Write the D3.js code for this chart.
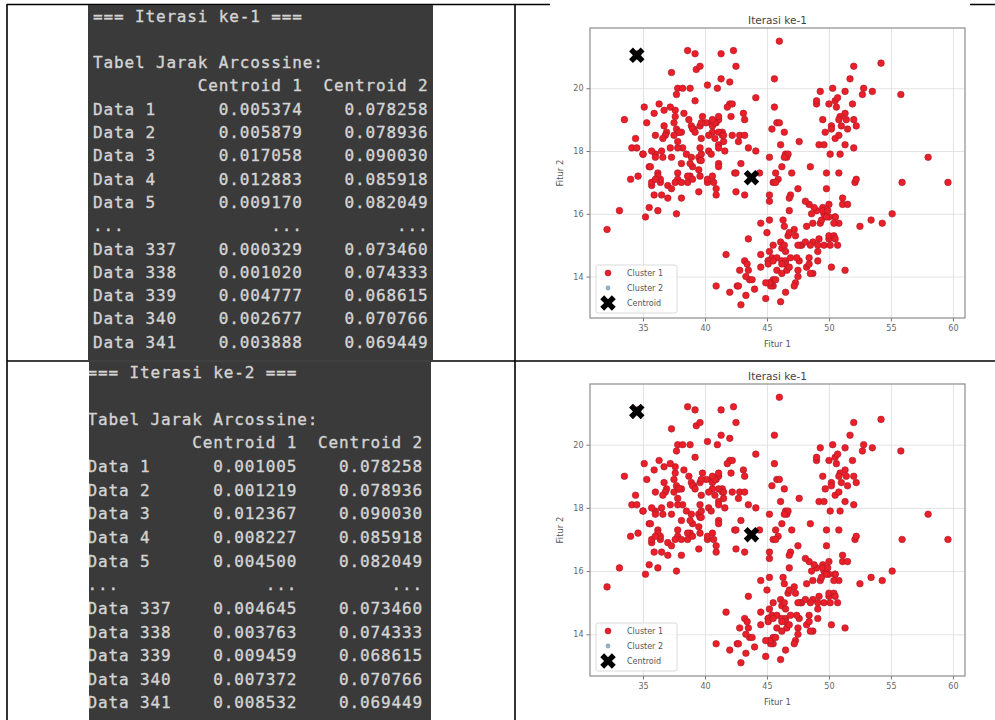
<!DOCTYPE html>
<html>
<head>
<meta charset="utf-8">
<script src="https://cdn.jsdelivr.net/npm/d3@7"></script>
<style>
  body { margin: 0; background: #fff; }
  svg { display: block; }
  .mono { font-family: "DejaVu Sans Mono", "Liberation Mono", monospace; white-space: pre; }
  .plot text { font-family: "DejaVu Sans", sans-serif; }
</style>
</head>
<body>
<svg id="chart" width="995" height="720"></svg>
<script>
// table text (terminal output)
var rowLabels = ["Data 1", "Data 2", "Data 3", "Data 4", "Data 5", "...", "Data 337", "Data 338", "Data 339", "Data 340", "Data 341"];
var iter1Centroid1 = ["0.005374", "0.005879", "0.017058", "0.012883", "0.009170", "...", "0.000329", "0.001020", "0.004777", "0.002677", "0.003888"];
var iter1Centroid2 = ["0.078258", "0.078936", "0.090030", "0.085918", "0.082049", "...", "0.073460", "0.074333", "0.068615", "0.070766", "0.069449"];
var iter2Centroid1 = ["0.001005", "0.001219", "0.012367", "0.008227", "0.004500", "...", "0.004645", "0.003763", "0.009459", "0.007372", "0.008532"];
var iter2Centroid2 = ["0.078258", "0.078936", "0.090030", "0.085918", "0.082049", "...", "0.073460", "0.074333", "0.068615", "0.070766", "0.069449"];

// scatter data: [Fitur 1, Fitur 2]
var points = [
  [39.1,18.7],[39.5,17.4],[40.3,18.0],[36.7,19.3],[39.3,20.6],[38.9,17.8],[39.2,19.6],[34.1,18.1],[42.0,20.2],[37.8,17.1],
  [37.8,17.3],[41.1,17.6],[38.6,21.2],[34.6,21.1],[36.6,17.8],[38.7,19.0],[42.5,20.7],[34.4,18.4],[46.0,21.5],[37.8,18.3],
  [37.7,18.7],[35.9,19.2],[38.2,18.1],[38.8,17.2],[35.3,18.9],[40.6,18.6],[40.5,17.9],[37.9,18.6],[40.5,18.9],[39.5,16.7],
  [37.2,18.1],[39.5,17.8],[40.9,18.9],[36.4,17.0],[39.2,21.1],[38.8,20.0],[42.2,18.5],[37.6,19.3],[39.8,19.1],[36.5,18.0],
  [40.8,18.4],[36.0,18.5],[44.1,19.7],[37.0,16.9],[39.6,18.8],[41.1,19.0],[37.5,18.9],[36.0,17.9],[42.3,21.2],[39.6,17.7],
  [40.1,18.9],[35.0,17.9],[42.0,19.5],[34.5,18.1],[41.4,18.6],[39.0,17.5],[40.6,18.8],[36.5,16.6],[37.6,19.1],[35.7,16.9],
  [41.3,21.1],[37.6,17.0],[41.1,18.2],[36.4,17.1],[41.6,18.0],[35.5,16.2],[41.1,19.1],[35.9,16.6],[41.8,19.4],[33.5,19.0],
  [39.7,18.4],[39.6,17.2],[45.8,18.9],[35.5,17.5],[42.8,18.5],[40.9,16.8],[37.2,19.4],[36.2,16.1],[42.1,19.1],[34.6,17.2],
  [42.9,17.6],[36.7,18.8],[35.1,19.4],[37.3,17.8],[41.3,20.3],[36.3,19.5],[36.9,18.6],[38.3,19.2],[38.9,18.8],[35.7,18.0],
  [41.1,18.1],[34.0,17.1],[39.6,18.1],[36.2,17.3],[40.8,18.9],[38.1,18.6],[40.3,18.5],[33.1,16.1],[43.2,18.5],[35.0,17.9],
  [41.0,20.0],[37.7,16.0],[37.8,20.0],[37.9,18.6],[39.7,18.9],[38.6,17.2],[38.2,20.0],[38.1,17.0],[43.2,19.0],[38.1,16.5],
  [45.6,20.3],[39.7,17.7],[42.2,19.5],[39.6,20.7],[42.7,18.3],[38.6,17.0],[37.3,20.5],[35.7,17.0],[41.1,18.6],[36.2,17.2],
  [37.7,19.8],[40.2,17.0],[41.4,18.5],[35.2,15.9],[40.6,19.0],[38.8,17.6],[41.5,18.3],[39.0,17.1],[44.1,18.0],[38.5,17.9],
  [43.1,19.2],[36.8,18.5],[37.5,18.5],[38.1,17.6],[41.1,17.5],[35.6,17.5],[40.2,20.1],[37.0,16.5],[39.7,17.9],[40.2,17.1],
  [40.6,17.2],[32.1,15.5],[40.7,17.0],[37.3,16.8],[39.0,18.7],[39.2,18.6],[36.6,18.4],[36.0,17.8],[37.8,18.1],[36.0,17.1],
  [41.5,18.5],
  [46.1,13.2],[50.0,16.3],[48.7,14.1],[50.0,15.2],[47.6,14.5],[46.5,13.5],[45.4,14.6],[46.7,15.3],[43.3,13.4],[46.8,15.4],
  [40.9,13.7],[49.0,16.1],[45.5,13.7],[48.4,14.6],[45.8,14.6],[49.3,15.7],[42.0,13.5],[49.2,15.2],[46.2,14.5],[48.7,15.1],
  [50.2,14.3],[45.1,14.5],[46.5,14.5],[46.3,15.8],[42.9,13.1],[46.1,15.1],[44.5,14.3],[47.8,15.0],[48.2,14.3],[50.0,15.3],
  [47.3,15.3],[42.8,14.2],[45.1,14.5],[59.6,17.0],[49.1,14.8],[48.4,16.3],[42.6,13.7],[44.4,17.3],[44.0,13.6],[48.7,15.7],
  [42.7,13.7],[49.6,16.0],[45.3,13.7],[49.6,15.0],[50.5,15.9],[43.6,13.9],[45.5,13.9],[50.5,15.9],[44.9,13.3],[45.2,15.8],
  [46.6,14.2],[48.5,14.1],[45.1,14.4],[50.1,15.0],[46.5,14.4],[45.0,15.4],[43.8,13.9],[45.5,15.0],[43.2,14.5],[50.4,15.3],
  [45.3,13.8],[46.2,14.9],[45.7,13.9],[54.3,15.7],[45.8,14.2],[49.8,16.8],[46.2,14.4],[49.5,16.2],[43.5,14.2],[50.7,15.0],
  [47.7,15.0],[46.4,15.6],[48.2,15.6],[46.5,14.8],[46.4,15.0],[48.6,16.0],[47.5,14.2],[51.1,16.3],[45.2,13.8],[45.2,16.4],
  [49.1,14.5],[52.5,15.6],[47.4,14.6],[50.0,15.9],[44.9,13.8],[50.8,17.3],[43.4,14.4],[51.3,14.2],[47.5,14.0],[52.1,17.0],
  [47.5,15.0],[52.2,17.1],[45.5,14.5],[49.5,16.1],[44.5,14.7],[50.8,15.7],[49.4,15.8],[46.9,14.6],[48.4,14.4],[51.1,16.5],
  [48.5,15.0],[55.9,17.0],[47.2,15.5],[49.1,15.0],[47.3,13.8],[46.8,16.1],[41.7,14.7],[53.4,15.8],[43.3,14.0],[48.1,15.1],
  [50.5,15.2],[49.8,15.9],[43.5,15.2],[51.5,16.3],[46.2,14.1],[55.1,16.0],[44.5,15.7],[48.8,16.2],[47.2,13.7],[46.8,14.3],
  [50.4,15.7],[45.2,14.8],[49.9,16.1],
  [46.5,17.9],[50.0,19.5],[51.3,19.2],[45.4,18.7],[52.7,19.8],[45.2,17.8],[46.1,18.2],[51.3,18.2],[46.0,18.9],[51.3,19.9],
  [46.6,17.8],[51.7,20.3],[47.0,17.3],[52.0,18.1],[45.9,17.1],[50.5,19.6],[50.3,20.0],[58.0,17.8],[46.4,18.6],[49.2,18.2],
  [42.4,17.3],[48.5,17.5],[43.2,16.6],[50.6,19.4],[46.7,17.9],[52.0,19.0],[50.5,18.4],[49.5,19.0],[46.4,17.8],[52.8,20.0],
  [40.9,16.6],[54.2,20.8],[42.5,16.7],[51.0,18.8],[49.7,18.6],[47.5,16.8],[47.6,18.3],[52.0,20.7],[46.9,16.6],[53.5,19.9],
  [49.0,19.5],[46.2,17.5],[50.9,19.1],[45.5,17.0],[50.9,17.9],[50.8,18.5],[50.1,17.9],[49.0,19.6],[51.5,18.7],[49.8,17.3],
  [48.1,16.4],[51.4,19.0],[45.7,17.3],[50.7,19.7],[42.5,17.3],[52.2,18.8],[45.2,16.6],[49.3,19.9],[50.2,18.8],[45.6,19.4],
  [51.9,19.5],[46.8,16.5],[45.7,17.0],[55.8,19.8],[43.5,18.1],[49.6,18.2],[50.8,19.0],[50.2,18.7]
];
var centroids = [[34.5, 21.05], [43.75, 17.15]];
var xTicks = [35, 40, 45, 50, 55, 60];
var yTicks = [14, 16, 18, 20];
var legendLabels = ["Cluster 1", "Cluster 2", "Centroid"];

var svg = d3.select("#chart");

// ---- terminal panels ----
function buildLines(title, c1, c2) {
  var lines = [title, "", "Tabel Jarak Arcossine:",
    "".padEnd(8) + "  " + "Centroid 1" + "  " + "Centroid 2"];
  rowLabels.forEach(function (lab, i) {
    lines.push(lab.padEnd(8) + "  " + c1[i].padStart(10) + "  " + c2[i].padStart(10));
  });
  return lines;
}

function drawPanel(id, x0, y0, x1, y1, textX, baseY, step, lines) {
  svg.append("clipPath").attr("id", id)
    .append("rect").attr("x", x0).attr("y", y0).attr("width", x1 - x0).attr("height", y1 - y0);
  var g = svg.append("g").attr("clip-path", "url(#" + id + ")");
  g.append("rect").attr("x", x0).attr("y", y0).attr("width", x1 - x0).attr("height", y1 - y0)
    .attr("fill", "#3a3a3a");
  g.selectAll("text").data(lines).enter().append("text")
    .attr("class", "mono")
    .attr("x", textX)
    .attr("y", function (d, i) { return baseY + i * step; })
    .attr("font-size", "16px")
    .attr("letter-spacing", "0.85px")
    .attr("fill", "#d4d4d4")
    .attr("stroke", "#d4d4d4")
    .attr("stroke-width", 0.35)
    .text(function (d) { return d; });
}

// table borders
var border = svg.append("g").attr("stroke", "#000").attr("stroke-width", 1.6);
border.append("line").attr("x1", 7).attr("y1", 4.5).attr("x2", 995).attr("y2", 4.5);
border.append("line").attr("x1", 7).attr("y1", 4).attr("x2", 7).attr("y2", 720);
border.append("line").attr("x1", 515).attr("y1", 4).attr("x2", 515).attr("y2", 720);
border.append("line").attr("x1", 7).attr("y1", 361).attr("x2", 995).attr("y2", 361);

drawPanel("clipTop", 88, 5, 433, 360, 93, 21.5, 23.3,
  buildLines("=== Iterasi ke-1 ===", iter1Centroid1, iter1Centroid2));
drawPanel("clipBot", 89, 362, 431, 720, 87.5, 377.5, 23.64,
  buildLines("=== Iterasi ke-2 ===", iter2Centroid1, iter2Centroid2));

// ---- scatter plots ----
function drawPlot(top, h, whiteTop) {
  var left = 590, right = 965, bottom = top + h;
  var g = svg.append("g").attr("class", "plot");
  if (whiteTop) {
    g.append("rect").attr("x", 550).attr("y", 3).attr("width", 420).attr("height", 355).attr("fill", "#fff");
  }
  var x = d3.scaleLinear().domain([30.725, 60.975]).range([left, right]);
  var y = d3.scaleLinear().domain([12.68, 21.92]).range([bottom, top]);

  // grid
  g.append("g").attr("transform", "translate(0," + bottom + ")")
    .call(d3.axisBottom(x).tickValues(xTicks).tickSize(-h).tickFormat(""))
    .call(function (s) {
      s.select(".domain").remove();
      s.selectAll("line").attr("stroke", "#dcdcdc").attr("stroke-width", 0.8);
    });
  g.append("g").attr("transform", "translate(" + left + ",0)")
    .call(d3.axisLeft(y).tickValues(yTicks).tickSize(-(right - left)).tickFormat(""))
    .call(function (s) {
      s.select(".domain").remove();
      s.selectAll("line").attr("stroke", "#dcdcdc").attr("stroke-width", 0.8);
    });

  // axes ticks
  g.append("g").attr("transform", "translate(0," + bottom + ")")
    .call(d3.axisBottom(x).tickValues(xTicks).tickSize(3.5).tickPadding(3.5))
    .call(function (s) {
      s.select(".domain").remove();
      s.selectAll("line").attr("stroke", "#777");
      s.selectAll("text").attr("font-size", "8px").attr("fill", "#666")
        .attr("font-family", "DejaVu Sans, sans-serif");
    });
  g.append("g").attr("transform", "translate(" + left + ",0)")
    .call(d3.axisLeft(y).tickValues(yTicks).tickSize(3.5).tickPadding(3))
    .call(function (s) {
      s.select(".domain").remove();
      s.selectAll("line").attr("stroke", "#777");
      s.selectAll("text").attr("font-size", "8px").attr("fill", "#666")
        .attr("font-family", "DejaVu Sans, sans-serif");
    });

  // points
  g.append("g").selectAll("circle").data(points).enter().append("circle")
    .attr("cx", function (d) { return x(d[0]); })
    .attr("cy", function (d) { return y(d[1]); })
    .attr("r", 3.3)
    .attr("fill", "#ea1f27")
    .attr("stroke", "#a8182a")
    .attr("stroke-width", 0.6);

  // centroids
  var cross = d3.symbol().type(d3.symbolCross).size(150);
  g.append("g").selectAll("path").data(centroids).enter().append("path")
    .attr("d", cross)
    .attr("transform", function (d) { return "translate(" + x(d[0]) + "," + y(d[1]) + ") rotate(45)"; })
    .attr("fill", "#000");

  // frame
  g.append("rect").attr("x", left).attr("y", top).attr("width", right - left).attr("height", h)
    .attr("fill", "none").attr("stroke", "#8c8c8c").attr("stroke-width", 1.2);

  // labels
  g.append("text").attr("x", (left + right) / 2).attr("y", top - 4.5)
    .attr("text-anchor", "middle").attr("font-size", "10.5px").attr("fill", "#444").text("Iterasi ke-1");
  g.append("text").attr("x", (left + right) / 2).attr("y", bottom + 29)
    .attr("text-anchor", "middle").attr("font-size", "8.5px").attr("fill", "#555").text("Fitur 1");
  g.append("text").attr("transform", "translate(563," + (top + h / 2) + ") rotate(-90)")
    .attr("text-anchor", "middle").attr("font-size", "8.5px").attr("fill", "#555").text("Fitur 2");

  // legend
  var lg = g.append("g");
  lg.append("rect").attr("x", 596).attr("y", bottom - 53).attr("width", 81).attr("height", 48)
    .attr("rx", 2).attr("fill", "#fff").attr("fill-opacity", 0.8).attr("stroke", "#d0d0d0").attr("stroke-width", 0.8);
  var rows = lg.selectAll("g.row").data(legendLabels).enter().append("g")
    .attr("class", "row")
    .attr("transform", function (d, i) { return "translate(608," + (bottom - 45 + i * 15) + ")"; });
  rows.append("text").attr("x", 19).attr("y", 3).attr("font-size", "8px").attr("fill", "#555")
    .text(function (d) { return d; });
  rows.filter(function (d, i) { return i === 0; }).append("circle").attr("r", 3)
    .attr("fill", "#ea1f27").attr("stroke", "#a8182a").attr("stroke-width", 0.6);
  rows.filter(function (d, i) { return i === 1; }).append("circle").attr("r", 2.4)
    .attr("fill", "#94aec0");
  rows.filter(function (d, i) { return i === 2; }).append("path").attr("d", cross)
    .attr("transform", "rotate(45)").attr("fill", "#000");
}

drawPlot(28, 290, true);
drawPlot(384, 292, false);
</script>
</body>
</html>
